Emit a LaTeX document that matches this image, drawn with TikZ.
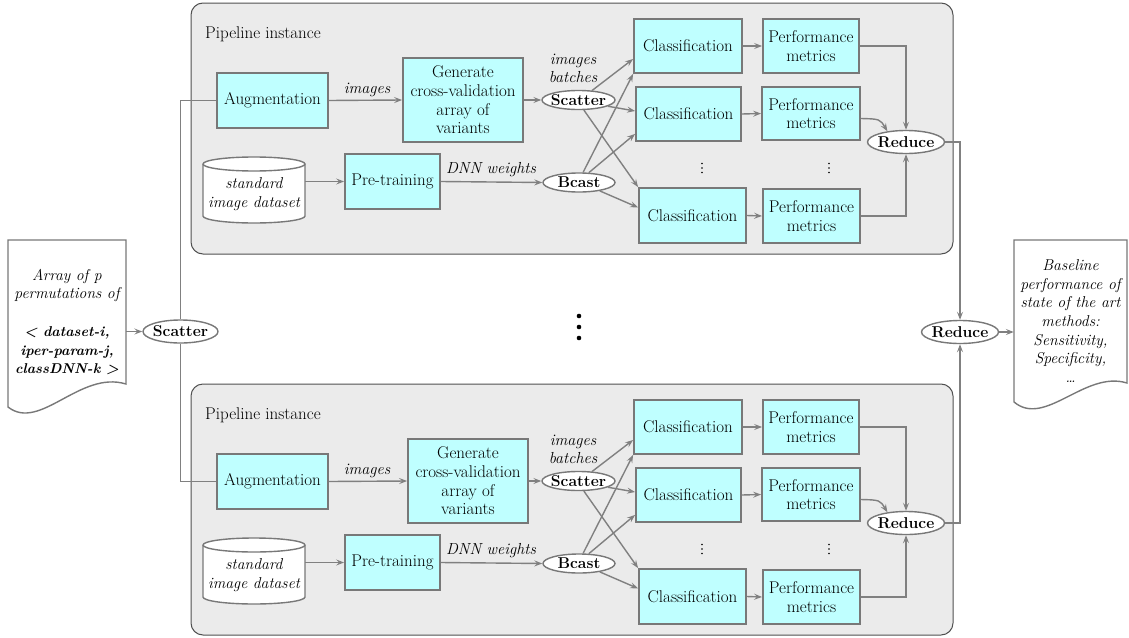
\documentclass[tikz,border=0pt]{standalone}
\usetikzlibrary{shapes.geometric,arrows.meta,calc}
\definecolor{panelfill}{RGB}{235,235,235}
\definecolor{panelline}{RGB}{80,80,80}
\definecolor{boxfill}{RGB}{191,255,255}
\definecolor{boxline}{RGB}{120,120,120}
\definecolor{connline}{RGB}{128,128,128}
\begin{document}
\begin{tikzpicture}[x=1pt,y=-1pt,
  every node/.style={font=\fontsize{17}{18.7}\selectfont, inner sep=0pt},
  procbox/.style={draw=boxline, line width=1.8pt, fill=boxfill, align=center},
  opell/.style={ellipse, draw=boxline, line width=1.4pt, fill=white, inner xsep=-6pt, inner ysep=-1pt, font=\fontsize{15.7}{18.7}\selectfont\bfseries},
  conn/.style={draw=connline, line width=1.4pt},
  arr/.style={conn, -{Stealth[length=8pt,width=6pt,inset=3pt]}},
  panel/.style={fill=panelfill, draw=panelline, line width=1pt, rounded corners=12pt},
  lbl/.style={font=\fontsize{16}{18.7}\selectfont\itshape},
  doctext/.style={font=\fontsize{15.7}{18.7}\selectfont\itshape},
  docshape/.style={draw=boxline, line width=1.4pt, fill=white},
  dotmark/.style={fill=black}]
\useasboundingbox (0,0) rectangle (1129,637);

\foreach \pn/\dy/\gx in {t/0/0,b/381/5}{
\begin{scope}[yshift=-\dy pt]
  \draw[panel] (191,3) rectangle (953,254);
  \node[anchor=base west] (\pn title) at (205,38) {Pipeline instance};
  \node[procbox, minimum width=111pt, minimum height=55pt] (\pn aug) at (272.5,100.5) {Augmentation};
  \node[procbox, minimum width=120pt, minimum height=84pt] (\pn gen) at (463+\gx,100) {Generate\\cross-validation\\array of\\variants};
  % cylinder
  \draw[docshape] (203,164) -- (203,216) arc[start angle=180, end angle=0, x radius=51, y radius=7]
     -- (305,164) arc[start angle=0, end angle=-180, x radius=51, y radius=7] -- cycle;
  \draw[docshape, fill=none] (203,164) arc[start angle=180, end angle=0, x radius=51, y radius=7];
  \node[doctext, align=center, minimum width=102pt] (\pn cyl) at (254,194) {standard\\image dataset};
  \node[procbox, minimum width=95pt, minimum height=55pt] (\pn pre) at (392.5,181.5) {Pre-training};
  \node[opell, minimum width=73pt, minimum height=19pt] (\pn sc) at (578.5,100) {Scatter};
  \node[opell, minimum width=72pt, minimum height=19pt] (\pn bc) at (579,182.5) {Bcast};
  \node[procbox, minimum width=108pt, minimum height=54pt] (\pn ca) at (688,46) {Classification};
  \node[procbox, minimum width=105pt, minimum height=54pt] (\pn cb) at (688.5,114) {Classification};
  \node[procbox, minimum width=107pt, minimum height=55pt] (\pn cc) at (692.5,215.5) {Classification};
  \node[procbox, minimum width=96pt, minimum height=54pt] (\pn pa) at (811,46) {Performance\\metrics};
  \node[procbox, minimum width=98pt, minimum height=53pt] (\pn pb) at (811,113.5) {Performance\\metrics};
  \node[procbox, minimum width=97pt, minimum height=54pt] (\pn pc) at (811.5,216) {Performance\\metrics};
  \node[opell, minimum width=77pt, minimum height=23pt] (\pn red) at (906,142) {Reduce};
  % vertical ellipses
  \foreach \yy in {163.5,168,172.5}{
    \fill[dotmark] (702,\yy) circle[radius=0.9];
    \fill[dotmark] (829,\yy) circle[radius=0.9];
  }
  % labels
  \node[lbl, anchor=base] (\pn limg) at (367,93) {images};
  \node[lbl, anchor=base] (\pn ldnn) at (491,173) {DNN weights};
  \node[lbl, align=center] (\pn lbat) at (573,68.5) {images\\batches};
  % connectors
  \draw[arr] (\pn aug.east) -- (\pn gen.west);
  \draw[arr] (\pn gen.east) -- (\pn sc.west);
  \draw[arr] (\pn cyl.east |- \pn pre.west) -- (\pn pre.west);
  \draw[arr] (\pn pre.east) -- (\pn bc.west);
  \draw[arr] (\pn sc.35) -- ([yshift=-13pt]\pn ca.west);
  \draw[arr] (\pn sc.-12) -- ([yshift=3pt]\pn cb.west);
  \draw[arr] (\pn sc.-62) -- (\pn cc.north west);
  \draw[arr] (\pn bc.68) -- (\pn ca.south west);
  \draw[arr] (\pn bc.45) -- ([yshift=8pt]\pn cb.south west);
  \draw[arr] (\pn bc.-22) -- ([yshift=8pt]\pn cc.west);
  \draw[arr] (\pn ca.east) -- (\pn pa.west);
  \draw[arr] (\pn cb.east) -- (\pn pb.west);
  \draw[arr] (\pn cc.east) -- (\pn pc.west);
  \draw[arr] (\pn pa.east) -| (\pn red.north);
  \draw[arr] ([yshift=-5pt]\pn pb.east) .. controls (880,119) .. (\pn red.150);
  \draw[arr] (\pn pc.east) -| (\pn red.south);
\end{scope}
}

% middle dots
\fill (579,316) circle[radius=2.3];
\fill (579,327) circle[radius=2.3];
\fill (579,338) circle[radius=2.3];

% left document
\draw[docshape] (126,384) -- (126,240) -- (8,240) -- (8,407) .. controls (40,432) and (80,370) .. (126,384) -- cycle;
\node[doctext, align=center, minimum width=118pt] (ldoc) at (67,322)
  {Array of p\\permutations of\\[18.7pt]{\fontsize{14.2}{18.7}\selectfont\bfseries < dataset-i,}\\{\fontsize{14.2}{18.7}\selectfont\bfseries iper-param-j,}\\{\fontsize{14.2}{18.7}\selectfont\bfseries classDNN-k >}};
\node[opell, minimum width=75pt, minimum height=23pt] (ls) at (180.5,331.5) {Scatter};
\draw[arr] (ldoc.east |- ls.west) -- (ls.west);
\draw[conn] (ls.north) |- (taug.west);
\draw[conn] (ls.south) |- (baug.west);

% right side
\node[opell, minimum width=77pt, minimum height=23pt] (fred) at (960,332) {Reduce};
\draw[arr] (tred.east) -| (fred.north);
\draw[arr] (bred.east) -| (fred.south);
\draw[docshape] (1127,383) -- (1127,240) -- (1014,240) -- (1014,402) .. controls (1045,428) and (1085,370) .. (1127,383) -- cycle;
\node[doctext, align=center, minimum width=113pt] (rdoc) at (1070.5,321)
  {Baseline\\performance of\\state of the art\\methods:\\Sensitivity,\\Specificity,\\\dots};
\draw[arr] (fred.east) -- (fred.east -| rdoc.west);
\end{tikzpicture}
\end{document}
